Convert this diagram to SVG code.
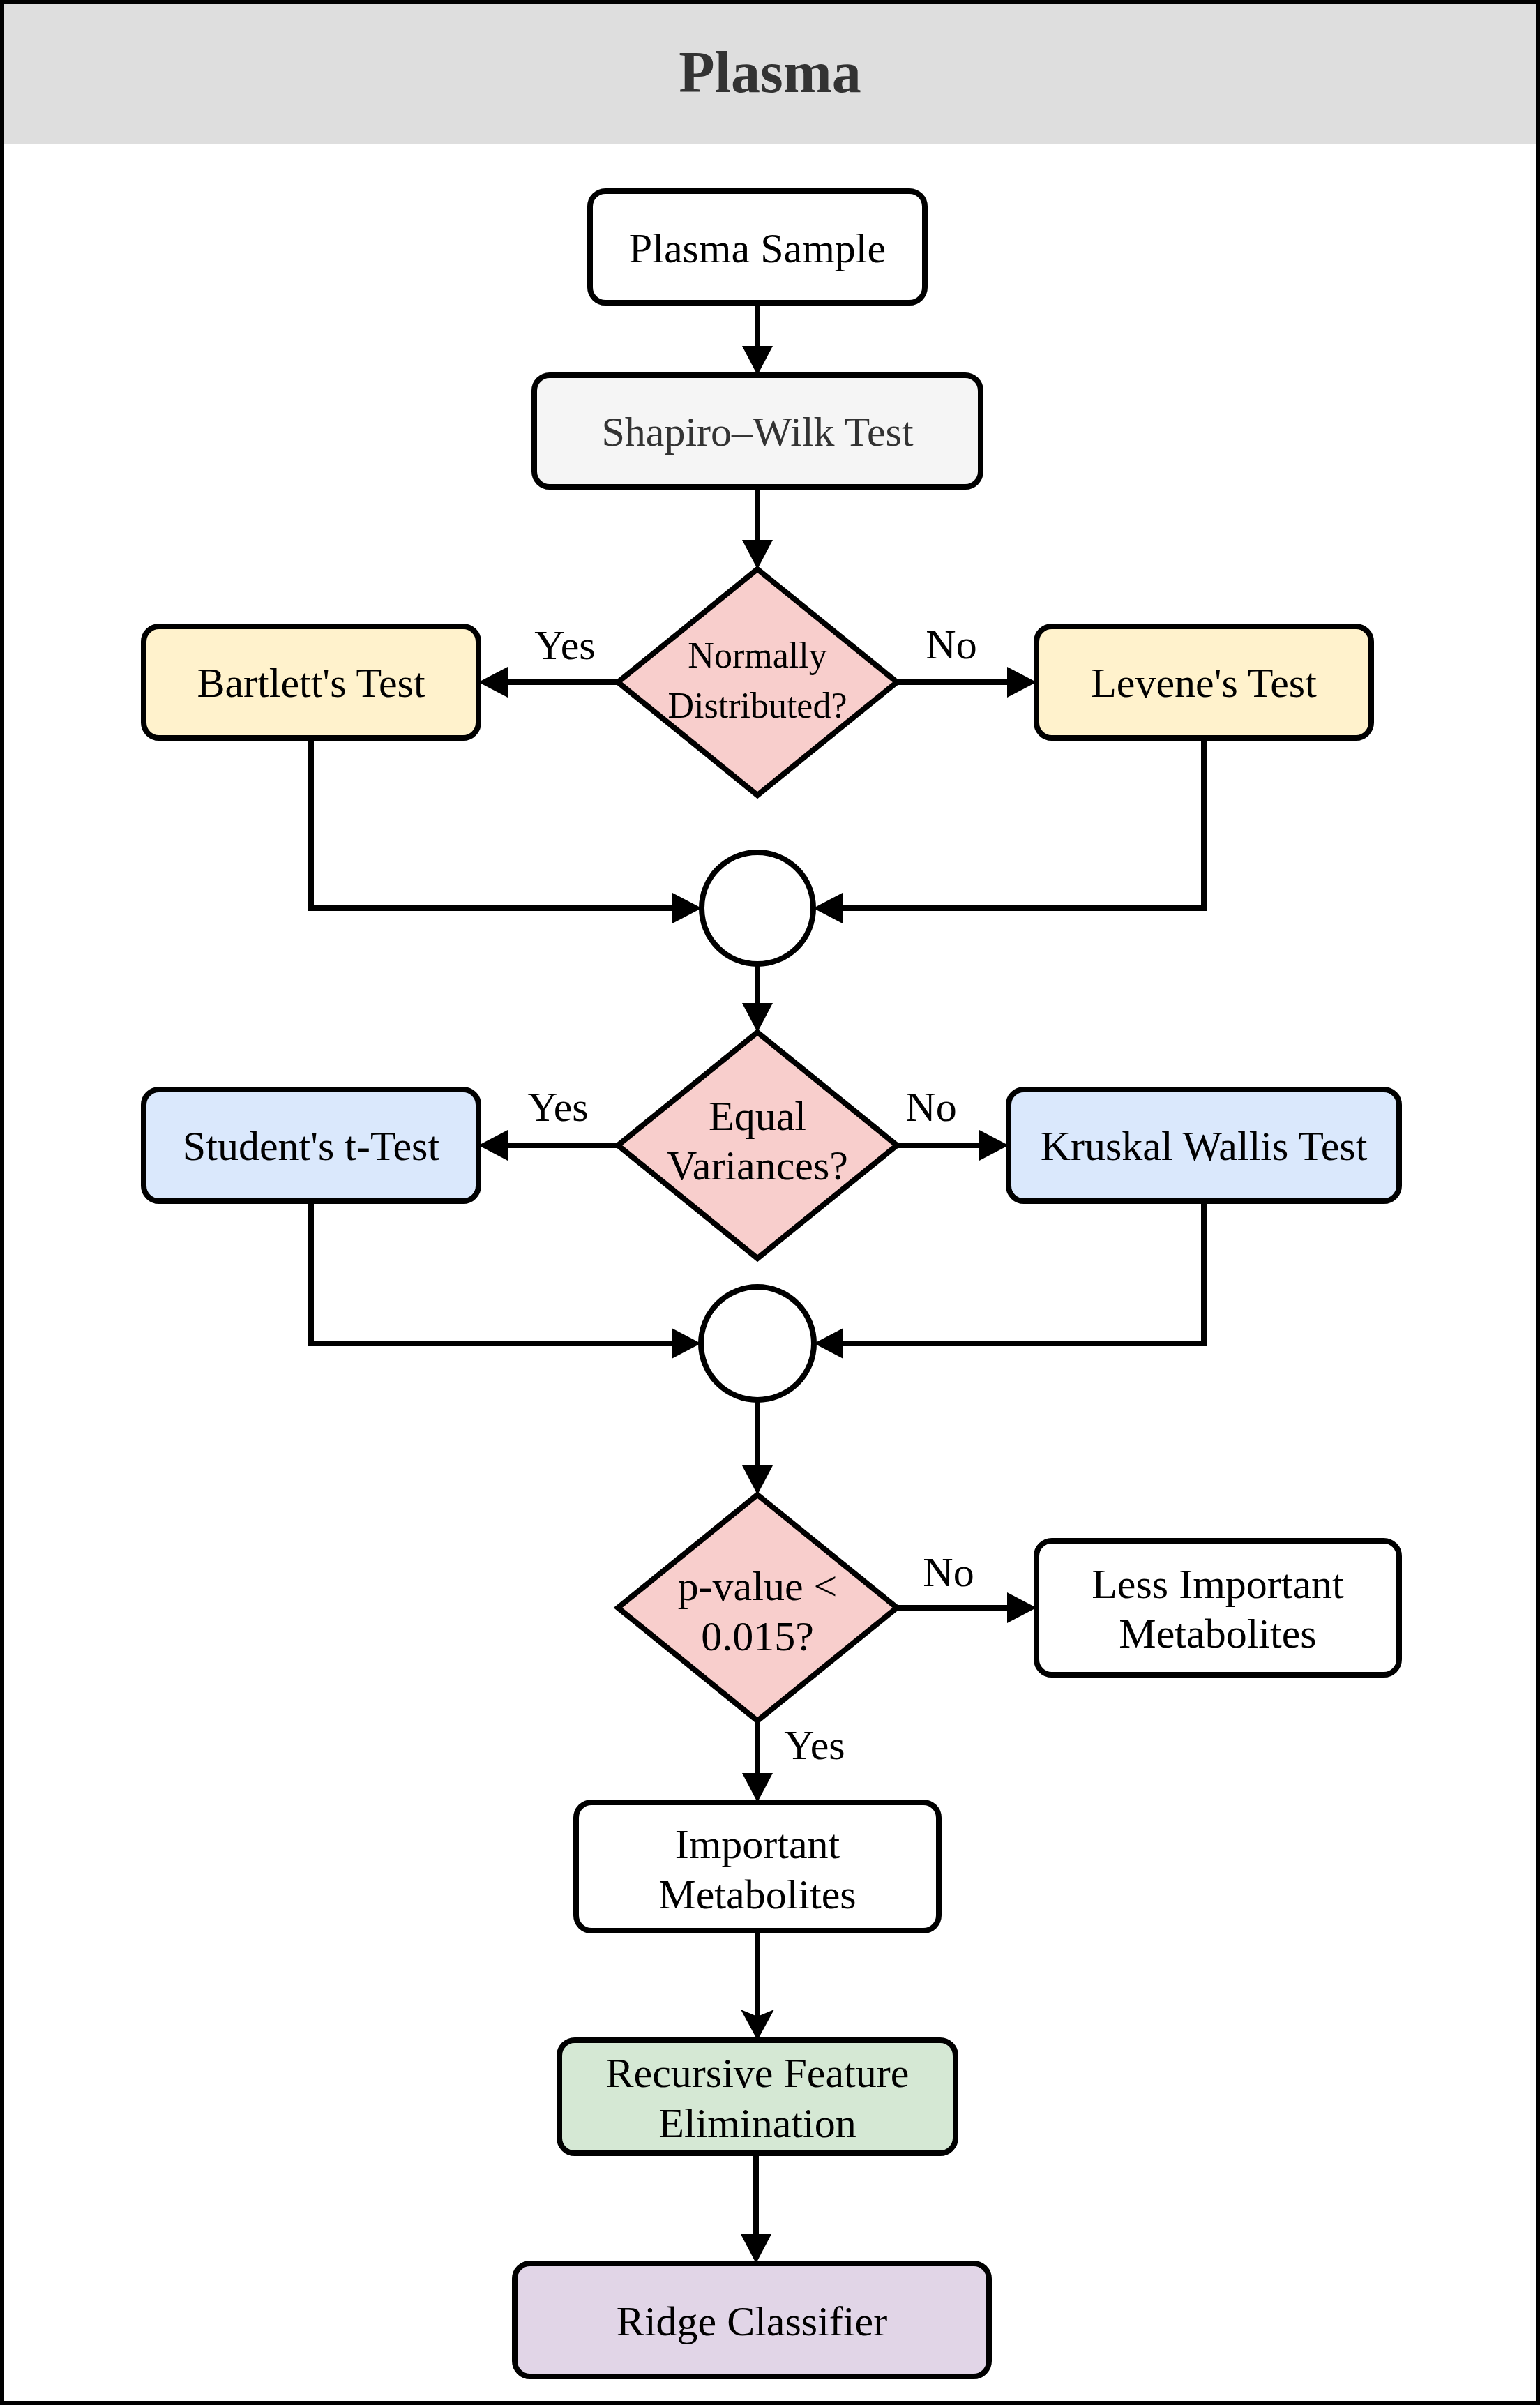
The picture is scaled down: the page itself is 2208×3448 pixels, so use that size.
<svg xmlns="http://www.w3.org/2000/svg" width="2208" height="3448" viewBox="0 0 2208 3448">
  <defs>
    <style>
      .node { stroke: #000; stroke-width: 8; }
      .lbl { font-family: "Liberation Serif", "Times New Roman", serif; font-size: 60px; fill: #000; text-anchor: middle; }
      .small { font-size: 52px; }
      .edge { fill: none; stroke: #000; stroke-width: 8; }
      .title { font-family: "Liberation Serif", "Times New Roman", serif; font-size: 84px; font-weight: bold; fill: #333; text-anchor: middle; }
    </style>
    <marker id="tri" viewBox="0 0 42 44" refX="1" refY="22" markerWidth="42" markerHeight="44" markerUnits="userSpaceOnUse" orient="auto">
      <path d="M0,0 L42,22 L0,44 z" fill="#000"/>
    </marker>
    <marker id="classic" viewBox="0 0 44 48" refX="10" refY="24" markerWidth="44" markerHeight="48" markerUnits="userSpaceOnUse" orient="auto">
      <path d="M0,0 L44,24 L0,48 L10,24 z" fill="#000"/>
    </marker>
  </defs>

  <!-- swimlane frame and header -->
  <rect x="0" y="0" width="2208" height="3448" fill="#fff"/>
  <rect x="6" y="6" width="2196" height="200" fill="#dedede"/>
  <rect x="3" y="3" width="2202" height="3442" fill="none" stroke="#000" stroke-width="6"/>
  <text class="title" x="1104" y="132">Plasma</text>

  <!-- connectors -->
  <g id="connectors">
    <path class="edge" d="M1086,434 V497" marker-end="url(#tri)"/>
    <path class="edge" d="M1086,698 V775" marker-end="url(#tri)"/>
    <path class="edge" d="M886,978 H727" marker-end="url(#tri)"/>
    <path class="edge" d="M1286,978 H1445" marker-end="url(#tri)"/>
    <path class="edge" d="M446,1058 V1302 H965" marker-end="url(#tri)"/>
    <path class="edge" d="M1726,1058 V1302 H1207" marker-end="url(#tri)"/>
    <path class="edge" d="M1086,1382 V1439" marker-end="url(#tri)"/>
    <path class="edge" d="M886,1642 H727" marker-end="url(#tri)"/>
    <path class="edge" d="M1286,1642 H1405" marker-end="url(#tri)"/>
    <path class="edge" d="M446,1722 V1926 H964" marker-end="url(#tri)"/>
    <path class="edge" d="M1726,1722 V1926 H1208" marker-end="url(#tri)"/>
    <path class="edge" d="M1086,2007 V2102" marker-end="url(#tri)"/>
    <path class="edge" d="M1286,2305 H1445" marker-end="url(#tri)"/>
    <path class="edge" d="M1086,2467 V2543" marker-end="url(#tri)"/>
    <path class="edge" d="M1086,2768 V2891" marker-end="url(#classic)"/>
    <path class="edge" d="M1084,3087 V3204" marker-end="url(#tri)"/>
    <text class="lbl" x="810" y="945">Yes</text>
    <text class="lbl" x="1364" y="944">No</text>
    <text class="lbl" x="800" y="1607">Yes</text>
    <text class="lbl" x="1335" y="1607">No</text>
    <text class="lbl" x="1360" y="2274">No</text>
    <text class="lbl" x="1168" y="2522">Yes</text>
  </g>

  <!-- nodes -->
  <g id="plasma-sample">
    <rect class="node" x="846" y="274" width="480" height="160" rx="22" fill="#fff"/>
    <text class="lbl" x="1086" y="376">Plasma Sample</text>
  </g>
  <g id="shapiro-wilk">
    <rect class="node" x="766" y="538" width="640" height="160" rx="22" fill="#f5f5f5"/>
    <text class="lbl" x="1086" y="639" style="fill:#333">Shapiro–Wilk Test</text>
  </g>
  <g id="normally-distributed">
    <polygon class="node" points="1086,816 1286,978 1086,1140 886,978" fill="#f8cecc"/>
    <text class="lbl small" x="1086" y="957">Normally</text>
    <text class="lbl small" x="1086" y="1029">Distributed?</text>
  </g>
  <g id="bartlett">
    <rect class="node" x="206" y="898" width="480" height="160" rx="22" fill="#fff2cc"/>
    <text class="lbl" x="446" y="999">Bartlett's Test</text>
  </g>
  <g id="levene">
    <rect class="node" x="1486" y="898" width="480" height="160" rx="22" fill="#fff2cc"/>
    <text class="lbl" x="1726" y="999">Levene's Test</text>
  </g>
  <g id="merge-1">
    <circle class="node" cx="1086" cy="1302" r="80" fill="#fff"/>
  </g>
  <g id="equal-variances">
    <polygon class="node" points="1086,1480 1286,1642 1086,1804 886,1642" fill="#f8cecc"/>
    <text class="lbl" x="1086" y="1620">Equal</text>
    <text class="lbl" x="1086" y="1691">Variances?</text>
  </g>
  <g id="student-t">
    <rect class="node" x="206" y="1562" width="480" height="160" rx="22" fill="#dae8fc"/>
    <text class="lbl" x="446" y="1663">Student's t-Test</text>
  </g>
  <g id="kruskal-wallis">
    <rect class="node" x="1446" y="1562" width="560" height="160" rx="22" fill="#dae8fc"/>
    <text class="lbl" x="1726" y="1663">Kruskal Wallis Test</text>
  </g>
  <g id="merge-2">
    <circle class="node" cx="1086" cy="1926" r="81" fill="#fff"/>
  </g>
  <g id="p-value">
    <polygon class="node" points="1086,2143 1286,2305 1086,2467 886,2305" fill="#f8cecc"/>
    <text class="lbl" x="1086" y="2294">p-value &lt;</text>
    <text class="lbl" x="1086" y="2366">0.015?</text>
  </g>
  <g id="less-important">
    <rect class="node" x="1486" y="2209" width="520" height="192" rx="22" fill="#fff"/>
    <text class="lbl" x="1746" y="2291">Less Important</text>
    <text class="lbl" x="1746" y="2362">Metabolites</text>
  </g>
  <g id="important">
    <rect class="node" x="826" y="2584" width="520" height="184" rx="22" fill="#fff"/>
    <text class="lbl" x="1086" y="2664">Important</text>
    <text class="lbl" x="1086" y="2736">Metabolites</text>
  </g>
  <g id="rfe">
    <rect class="node" x="802" y="2925" width="568" height="162" rx="22" fill="#d5e8d4"/>
    <text class="lbl" x="1086" y="2992">Recursive Feature</text>
    <text class="lbl" x="1086" y="3064">Elimination</text>
  </g>
  <g id="ridge">
    <rect class="node" x="738" y="3245" width="680" height="162" rx="22" fill="#e1d5e7"/>
    <text class="lbl" x="1078" y="3348">Ridge Classifier</text>
  </g>
</svg>
